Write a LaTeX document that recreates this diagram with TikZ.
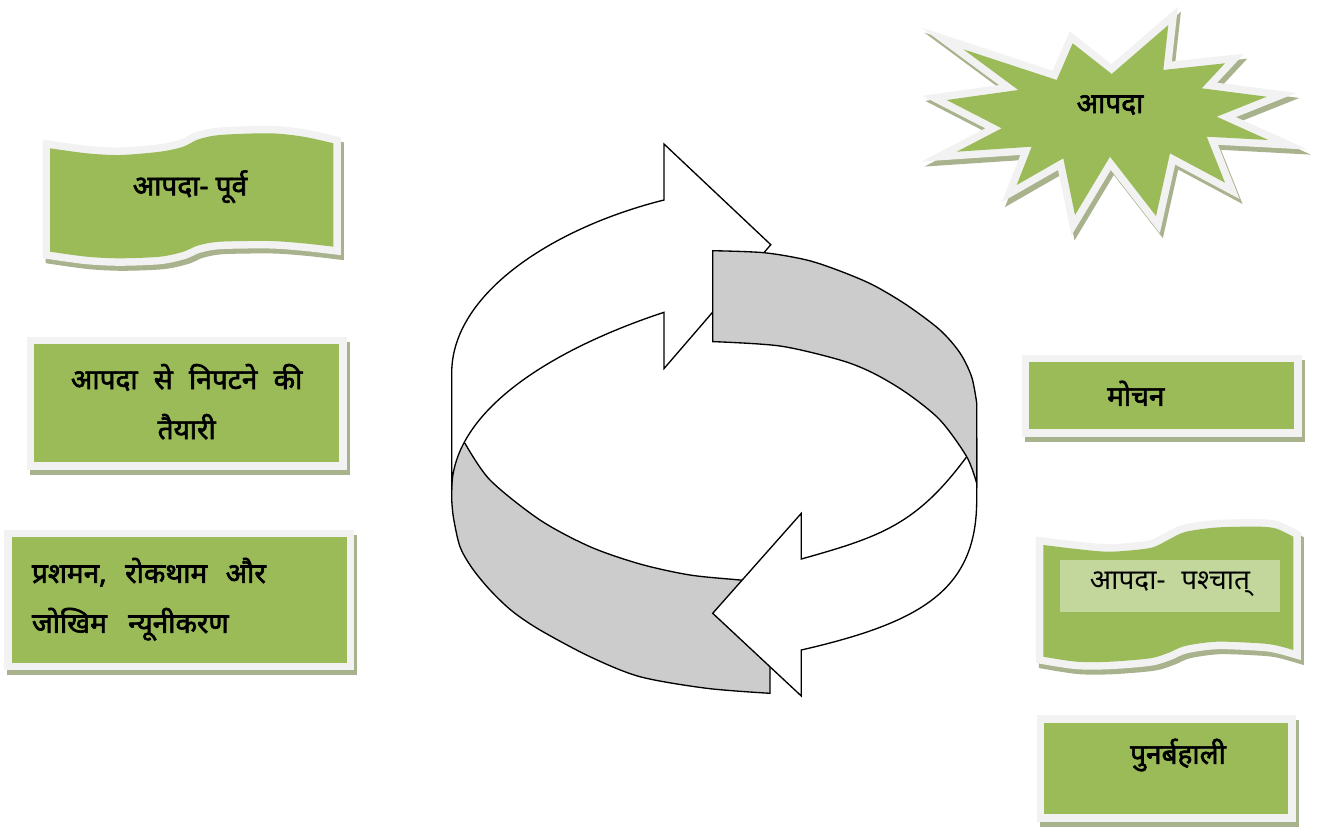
\documentclass[tikz,border=0pt]{standalone}
\usepackage{fontspec}
\newfontfamily\hindi[Script=Devanagari]{Noto Sans}
\newfontfamily\hindib[Script=Devanagari, FakeBold=2.2]{Noto Sans}
\definecolor{greenc}{RGB}{155,187,89}
\definecolor{framec}{RGB}{242,242,242}
\definecolor{shadowc}{RGB}{168,178,140}
\definecolor{lightg}{RGB}{195,214,155}
\definecolor{grayf}{RGB}{204,204,204}
\tikzset{
  txt/.style={font=\hindib\fontsize{21}{37.5}\selectfont, inner sep=0pt, text=black},
  txtreg/.style={font=\hindi\fontsize{21}{37.5}\selectfont, inner sep=0pt, text=black},
  greenbox/.style={fill=greenc, draw=framec, line width=5.625pt, inner sep=0pt,
     preaction={fill=shadowc, draw=shadowc, line width=5.625pt, transform canvas={xshift=2.25pt, yshift=-3.75pt}}},
  ringline/.style={draw=black, line width=1pt, line join=miter},
  shadowshape/.style={fill=shadowc, draw=shadowc, line width=11.25pt, shift={(3,5)}},
  frameshape/.style={draw=framec, line width=11.25pt},
  fillshape/.style={fill=greenc}
}
\newcommand\framedshape[1]{%
  \path[shadowshape] #1;
  \path[frameshape] #1;
  \path[fillshape] #1;
}
\def\leftwave{(50,148.3) -- plot[smooth] coordinates {(50,148.3) (86.7,153.3) (120,155) (160,151.7) (183.3,146.7) (198,139.5) (220,135) (270,133.3) (303.3,136.7) (333.3,143.3)} -- (333.3,246.7) -- plot[smooth] coordinates {(333.3,246.7) (303.3,243.3) (270,241) (220,241.7) (198,245.5) (183.3,251.7) (160,256.7) (120,258.3) (86.7,256.7) (50,251.7)} -- cycle}
\def\rightwave{(1043.3,545) -- plot[smooth] coordinates {(1043.3,545) (1076.7,549) (1110,551.7) (1150,548) (1168,540) (1185,532) (1216.7,527.5) (1260,526.7) (1276.7,528.8) (1293.3,536.7)} -- (1293.3,650) -- plot[smooth] coordinates {(1293.3,650) (1276.7,645.5) (1260,643.3) (1216.7,641.7) (1185,646) (1168,653) (1150,658.3) (1110,661.7) (1076.7,661.7) (1043.3,656.7)} -- cycle}
\def\starpath{(946.7,100) -- (1018.3,90) -- (963.3,49.3) -- (1056.7,80) -- (1072.7,43.3) -- (1111.7,74) -- (1168.3,25) -- (1163.3,70) -- (1225,63.3) -- (1201.7,88.3) -- (1266.7,96.7) -- (1216.7,116.7) -- (1268.3,140) -- (1206.7,136.7) -- (1225,182.7) -- (1170,153.3) -- (1156,216) -- (1110,156.7) -- (1075,215) -- (1063.3,158.3) -- (1016.7,185) -- (1031.7,146.7) -- (956.7,151.7) -- (1001.7,128.3) -- cycle}
\begin{document}
\begin{tikzpicture}[x=0.75pt,y=-0.75pt]
\useasboundingbox (0,0) rectangle (1320,831);
\fill[white] (0,0) rectangle (1320,831);

% ---------- left side ----------
\framedshape{\leftwave}
\node[txt] (pre) at (190,186.7) {आपदा- पूर्व};

\node[greenbox, minimum width=234.6pt, minimum height=94.125pt] (prepbox) at (186.65,403.3) {};
\node[txt, align=center] (preptxt) at (186.7,401.7) {आपदा\hspace{0.32em} से\hspace{0.32em} निपटने\hspace{0.32em} की\\तैयारी};

\node[greenbox, minimum width=256.875pt, minimum height=99.675pt] (mitbox) at (179.2,600) {};
\node[txt, align=left, anchor=west] (mittxt) at (31.7,599.2) {प्रशमन,\hspace{0.4em} रोकथाम\hspace{0.4em} और\\जोखिम\hspace{0.5em} न्यूनीकरण};

% ---------- right side ----------
\framedshape{\starpath}
\node[txt] (disaster) at (1110,105) {आपदा};

\node[greenbox, minimum width=204.375pt, minimum height=56.1pt] (mochbox) at (1161.8,395.65) {};
\node[txt] (mochtxt) at (1135.8,393.3) {मोचन};

\framedshape{\rightwave}
\node[fill=lightg, minimum width=165pt, minimum height=38.775pt, inner sep=0pt] (postbox) at (1170,585.85) {};
\node[txtreg] (posttxt) at (1170,584) {आपदा-\hspace{0.3em} पश्चात्};

\node[greenbox, minimum width=188.625pt, minimum height=74.1pt] (punbox) at (1166.3,768.35) {};
\node[txt] (puntxt) at (1178,755) {पुनर्बहाली};

% ---------- circular arrows ----------
% gray lower band (tail of A)
\path[ringline, fill=grayf] (458,440) -- (465,443.3)
  -- plot[smooth] coordinates {(465,443.3) (490,480) (540,520) (590,546.7) (640,564) (690,575) (740,580) (770,583)}
  -- (770,693.3)
  -- plot[smooth] coordinates {(770,693.3) (706.7,688.3) (640,676.7) (590,656.7) (540,630) (512,611) (490,590) (472,568) (460,546.7) (453.5,518) (451.7,500)}
  -- (451.7,440) -- cycle;
% arrow A (white, upper left)
\path[ringline, fill=white] (451.7,490) -- (451.7,373)
  .. controls (451.7,293) and (554,227.5) .. (664,200)
  -- (664,144) -- (770.8,244.7) -- (664,368.6) -- (664,312.3)
  .. controls (554,348.6) and (451.7,410) .. (451.7,490)
  -- cycle;
% arrow B (white, lower right)
\path[ringline, fill=white] (801.3,559)
  .. controls (881.3,536.6) and (916.7,524.2) .. (966.7,456.7)
  -- (976.7,440) -- (976.7,500)
  .. controls (976.7,590) and (921.3,622.4) .. (801.3,650)
  -- (801.3,696) -- (712.7,613.3) -- (801.3,513.3) -- cycle;
% gray upper band (tail of B)
\path[ringline, fill=grayf] (712.7,250.7)
  -- plot[smooth] coordinates {(712.7,250.7) (764,252.7) (806.7,260) (840,271) (873,285) (906.7,305) (940,330) (960,353) (971.7,377) (976.7,403)}
  -- (976.7,483.3)
  -- plot[smooth] coordinates {(976.7,483.3) (966.7,456.7) (940,420) (906.7,393) (873,373) (840,360) (780,346) (712.7,341.6)}
  -- cycle;
\end{tikzpicture}
\end{document}
